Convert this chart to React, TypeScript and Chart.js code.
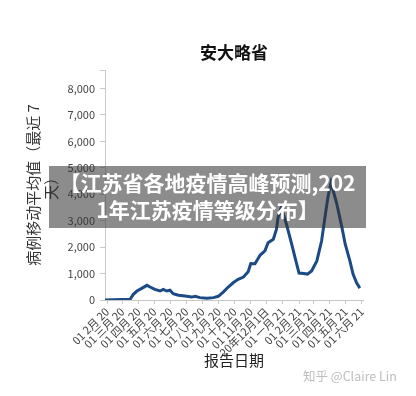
import React, { useEffect, useRef } from "react";
import { Chart, registerables } from "chart.js";

Chart.register(...registerables);

const chartTitle = "安大略省";
const yAxisTitle = ["病例移动平均值（最近 7", "天）"];
const xAxisTitle = "报告日期";
const overlayLines = ["【江苏省各地疫情高峰预测,202", "1年江苏疫情等级分布】"];
const watermark = "知乎 @Claire Lin";

// x values are days since 2020-02-01
const monthTickDays = [0, 29, 60, 90, 121, 151, 182, 213, 243, 274, 304, 335, 366, 394, 425, 455, 486];
const monthTickLabels = [
  "01 2月 20",
  "01 三月 20",
  "01 四月 20",
  "01 五月 20",
  "01 六月 20",
  "01 七月 20",
  "01 八月 20",
  "01 九月 20",
  "01 十月 20",
  "01 11月 20",
  "20年12月1日",
  "01 一月 21",
  "01 2月 21",
  "01 三月 21",
  "01 四月 21",
  "01 五月 21",
  "01 六月 21",
];

const dayOffsets = [
  -4, 44, 50, 57, 66, 76, 82, 91, 101, 107, 114, 120, 126, 136, 149, 161, 168, 177, 190, 203, 212,
  222, 231, 241, 250, 260, 269, 274, 282, 292, 301, 307, 317, 323, 326, 332, 336, 342, 352, 360,
  366, 375, 382, 390, 400, 409, 416, 421, 427, 438, 448, 454, 463, 469, 476, 482,
];
const caseAverages = [
  0, 30, 215, 340, 440, 555, 490, 400, 340, 400, 340, 370, 240, 180, 150, 110, 140, 90, 70, 90, 140,
  310, 490, 660, 780, 870, 1070, 1380, 1370, 1700, 1860, 2170, 2300, 2680, 3120, 3500, 3250, 2870,
  2110, 1480, 1020, 1000, 980, 1100, 1480, 2230, 3200, 3880, 4440, 3640, 2730, 2120, 1480, 980, 640,
  450,
];

const yTickValues = [0, 1000, 2000, 3000, 4000, 5000, 6000, 7000, 8000];
const yMax = 8700;
const xMin = -4;
const xMax = 488;

const FONT = '"Noto Sans CJK SC", "Noto Sans", sans-serif';

const centeredTitle = {
  id: "centeredTitle",
  afterDraw(chart: any) {
    const { ctx, chartArea } = chart;
    ctx.save();
    ctx.font = `bold 17px ${FONT}`;
    ctx.fillStyle = "#111";
    ctx.textAlign = "center";
    ctx.textBaseline = "middle";
    ctx.fillText(chartTitle, (chartArea.left + chartArea.right) / 2, 53);
    ctx.restore();
  },
};

export default function App() {
  const canvasRef = useRef<HTMLCanvasElement | null>(null);

  useEffect(() => {
    const canvas = canvasRef.current;
    if (!canvas) return;
    const chart = new Chart(canvas, {
      type: "line",
      data: {
        datasets: [
          {
            data: dayOffsets.map((d, i) => ({ x: d, y: caseAverages[i] })),
            borderColor: "#1b4a85",
            borderWidth: 3,
            pointRadius: 0,
            tension: 0,
            fill: false,
          },
        ],
      },
      options: {
        responsive: false,
        animation: false,
        layout: { padding: { left: 0, right: 53, top: 70, bottom: 0 } },
        plugins: {
          legend: { display: false },
          tooltip: { enabled: false },
          title: { display: false },
        },
        scales: {
          x: {
            type: "linear",
            min: xMin,
            max: xMax,
            afterBuildTicks: (s: any) => {
              s.ticks = monthTickDays.map((v) => ({ value: v }));
            },
            afterFit: (s: any) => {
              s.height = 96;
            },
            ticks: {
              autoSkip: false,
              maxRotation: 45,
              minRotation: 45,
              padding: 1,
              color: "#444",
              font: { family: FONT, size: 11 },
              callback: (v: any) => {
                const i = monthTickDays.indexOf(Number(v));
                return i >= 0 ? monthTickLabels[i] : "";
              },
            },
            grid: { display: true, drawOnChartArea: false, drawTicks: true, tickLength: 4, color: "#c8c8c8" },
            border: { display: true, color: "#c8c8c8" },
            title: {
              display: true,
              text: xAxisTitle,
              color: "#222",
              font: { family: FONT, size: 15, lineHeight: 1.2 },
              padding: { top: 0, bottom: 27 },
            },
          },
          y: {
            min: 0,
            max: yMax,
            afterBuildTicks: (s: any) => {
              s.ticks = [...yTickValues, yMax].map((v) => ({ value: v }));
            },
            afterFit: (s: any) => {
              s.width = 105;
            },
            ticks: {
              padding: 5,
              color: "#444",
              font: { family: FONT, size: 11 },
              callback: (v: any) => (Number(v) === yMax ? "" : Number(v).toLocaleString("en-US")),
            },
            grid: { display: true, drawOnChartArea: false, drawTicks: true, tickLength: 5, color: "#c8c8c8" },
            border: { display: true, color: "#c8c8c8" },
            title: {
              display: true,
              text: yAxisTitle,
              color: "#333",
              font: { family: FONT, size: 15, lineHeight: 1.15 },
              padding: { top: 25 },
            },
          },
        },
      },
      plugins: [centeredTitle],
    } as any);
    return () => chart.destroy();
  }, []);

  return (
    <div
      style={{
        position: "fixed",
        left: 0,
        top: 0,
        width: 416,
        height: 396,
        background: "#fff",
        overflow: "hidden",
      }}
    >
      <canvas ref={canvasRef} width={416} height={396} style={{ display: "block" }} />
      <div
        style={{
          position: "absolute",
          left: 49,
          top: 166,
          width: 317,
          height: 62,
          background: "rgba(50,50,50,0.56)",
          color: "#fff",
          fontFamily: FONT,
          fontWeight: "bold",
          fontSize: 21,
          lineHeight: "26.5px",
          textAlign: "center",
          paddingTop: 3,
          boxSizing: "border-box",
          whiteSpace: "nowrap",
          letterSpacing: 0,
        }}
      >
        {overlayLines[0]}
        <br />
        {overlayLines[1]}
      </div>
      <div
        style={{
          position: "absolute",
          left: 303,
          top: 368,
          color: "#bdbdbd",
          fontFamily: FONT,
          fontSize: 12.5,
          lineHeight: "16px",
          whiteSpace: "nowrap",
        }}
      >
        {watermark}
      </div>
    </div>
  );
}
